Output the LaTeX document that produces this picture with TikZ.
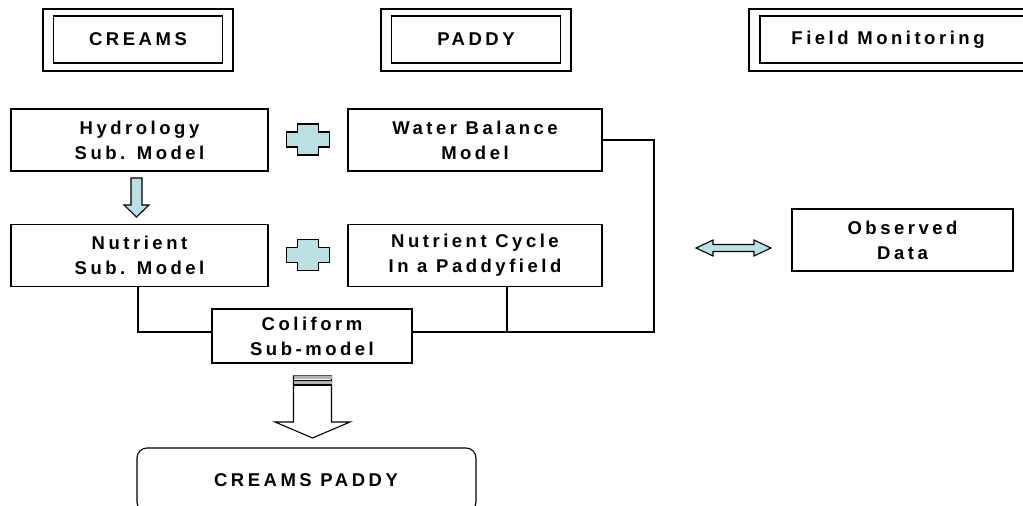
\documentclass[tikz,border=0pt]{standalone}
\usepackage{fontspec}
\setmainfont{Liberation Sans}[LetterSpace=19]
\begin{document}
\begin{tikzpicture}[x=1pt,y=-1pt,
  every node/.style={inner sep=0pt,outer sep=0pt,align=center,font=\fontsize{18.5}{25}\selectfont\bfseries},
  boxs/.style={draw,line width=1.1pt,minimum height=62pt},
  outerbox/.style={draw,line width=1.1pt,minimum width=190pt,minimum height=62pt},
  innerbox/.style={draw,line width=1.1pt,minimum width=169pt,minimum height=47pt},
  conn/.style={line width=1.1pt},
  bluefill/.style={draw,line width=1.1pt,fill=arrowblue},
]
\definecolor{arrowblue}{RGB}{187,223,227}
\useasboundingbox (0,0) rectangle (1023,506);
\clip (0,0) rectangle (1023,506);

% header boxes
\node[outerbox] (creamsO) at (138,40) {};
\node[innerbox] (creams) at (138,39.5) {CREAMS};
\node[outerbox] (paddyO) at (476,40) {};
\node[innerbox] (paddy) at (476,39.5) {PADDY};
\draw[line width=1.1pt] (1040,9) -| (749,71) -- (1040,71);
\draw[line width=1.1pt] (1040,16) -| (760,63) -- (1040,63);
\node (field) at (888,39.5) {Field Monitoring};

% model boxes
\node[boxs,minimum width=257pt] (hyd) at (139.5,140) {Hydrology\\Sub. Model};
\node[boxs,minimum width=257pt] (nut) at (139.5,255.5) {Nutrient\\Sub. Model};
\node[boxs,minimum width=254pt] (wb) at (475,140) {Water Balance\\Model};
\node[boxs,minimum width=254pt] (nc) at (475,255.5) {Nutrient Cycle\\In a Paddyfield};
\node[draw,line width=1.1pt,minimum width=200pt,minimum height=54pt] (coli) at (312,336) {Coliform\\Sub-model};
\node[boxs,minimum width=221pt] (obs) at (902.5,240) {Observed\\Data};

% connectors
\coordinate (ncdrop) at (507,286);
\coordinate (rcorner) at (654,332);
\coordinate (ljoin) at (coli.west |- rcorner);
\coordinate (rjoin) at (coli.east |- rcorner);
\draw[conn] (138,286) |- (ljoin);
\draw[conn] (rjoin) -- (rcorner) |- (wb.east);
\draw[conn] (ncdrop) -- (507,332);

% plus signs
\foreach \cy in {139.5,255} {
  \draw[bluefill] (297.5,\cy-15.5) -- (318.5,\cy-15.5) -- (318.5,\cy-7.5) -- (329.5,\cy-7.5)
    -- (329.5,\cy+7.5) -- (318.5,\cy+7.5) -- (318.5,\cy+15.5) -- (297.5,\cy+15.5)
    -- (297.5,\cy+7.5) -- (286.5,\cy+7.5) -- (286.5,\cy-7.5) -- (297.5,\cy-7.5) -- cycle;
}

% small down arrow
\draw[bluefill] (131,178) -- (142,178) -- (142,205) -- (149,205) -- (136.5,217)
  -- (124,205) -- (131,205) -- cycle;

% double arrow
\draw[bluefill] (696,248) -- (713,240) -- (713,244.5) -- (754,244.5) -- (754,240) -- (771,248)
  -- (754,256) -- (754,251.5) -- (713,251.5) -- (713,256) -- cycle;

% big down arrow
\draw[line width=1.1pt,fill=white] (293.5,376) -- (331.5,376) -- (331.5,422) -- (350,422)
  -- (312.5,438) -- (275,422) -- (293.5,422) -- cycle;
\fill[gray!60] (293.5,376) rectangle (331.5,379);
\fill[gray!60] (293.5,380.5) rectangle (331.5,384);
\draw[line width=0.9pt] (293.5,380) -- (331.5,380);
\draw[line width=1.1pt] (293.5,385) -- (331.5,385);

% final box
\draw[line width=1.1pt,rounded corners=10pt] (137,448) rectangle (476,512);
\node (cp) at (306,480) {CREAMS PADDY};
\end{tikzpicture}
\end{document}
